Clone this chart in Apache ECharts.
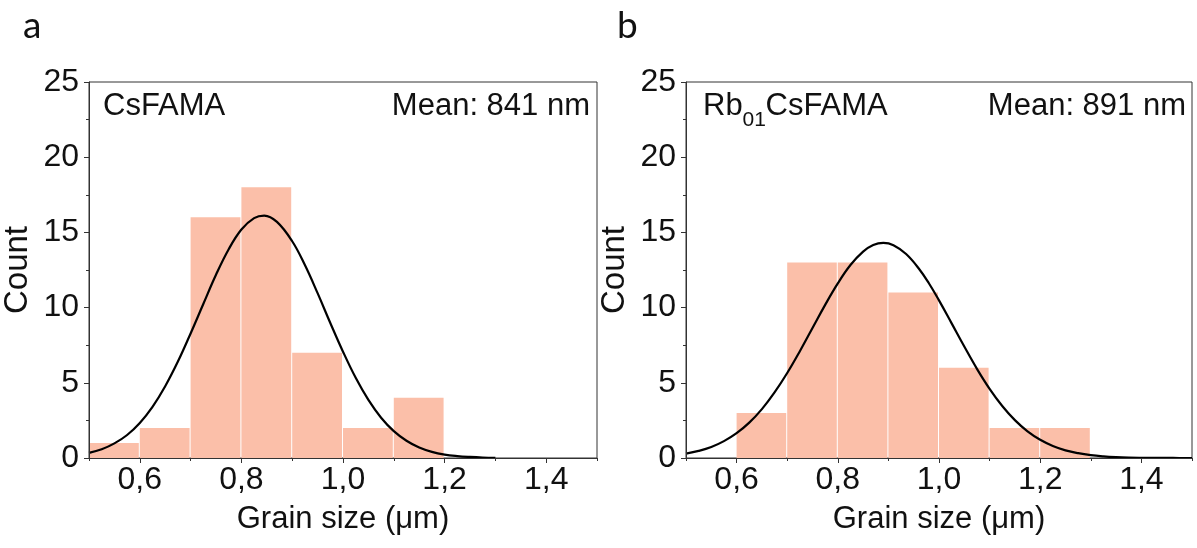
<!DOCTYPE html>
<html>
<head>
<meta charset="utf-8">
<script src="https://cdn.jsdelivr.net/npm/echarts@6/dist/echarts.min.js"></script>
<style>
html,body{margin:0;padding:0;background:#fff;}
#chart{width:1197px;height:548px;}
</style>
</head>
<body>
<div id="chart"></div>
<script>
// ---- data ----
const binWidth = 0.1;
const binLeftA = [0.5, 0.6, 0.7, 0.8, 0.9, 1.0, 1.1];
const countsA = [1, 2, 16, 18, 7, 2, 4];
const binLeftB = [0.6, 0.7, 0.8, 0.9, 1.0, 1.1, 1.2];
const countsB = [3, 13, 13, 11, 6, 2, 2];

const fitXA = [0.5,0.525,0.55,0.575,0.6,0.625,0.65,0.675,0.7,0.725,0.75,0.775,0.8,0.825,0.845,0.87,0.9,0.925,0.95,0.975,1.0,1.025,1.05,1.075,1.1,1.125,1.15,1.175,1.2,1.225,1.25,1.275,1.3];
const fitYA = [0.34,0.58,0.97,1.53,2.33,3.40,4.77,6.41,8.28,10.24,12.18,13.88,15.19,15.95,16.12,15.70,14.41,12.83,10.96,8.98,7.07,5.33,3.86,2.68,1.79,1.15,0.70,0.41,0.23,0.13,0.07,0.03,0.01];
const fitXB = [0.5,0.525,0.55,0.575,0.6,0.625,0.65,0.675,0.7,0.725,0.75,0.775,0.8,0.825,0.85,0.87,0.89,0.91,0.935,0.96,0.98,1.0,1.025,1.05,1.075,1.1,1.125,1.15,1.175,1.2,1.225,1.25,1.275,1.3,1.325,1.35,1.375,1.4,1.425,1.45,1.475,1.5];
const fitYB = [0.29,0.47,0.73,1.12,1.65,2.35,3.25,4.36,5.65,7.10,8.64,10.18,11.61,12.83,13.72,14.16,14.30,14.15,13.56,12.60,11.62,10.48,8.95,7.41,5.93,4.60,3.46,2.52,1.77,1.21,0.80,0.51,0.32,0.19,0.11,0.06,0.03,0.015,0.007,0.003,0.001,0.0];

const xMajorTicks = [0.6, 0.8, 1.0, 1.2, 1.4];
const sampleA = 'CsFAMA';
const meanA = 'Mean: 841 nm';
const meanB = 'Mean: 891 nm';

// ---- build ----
const FONT = "'Liberation Sans', Arial, sans-serif";
const AXC = '#333';
const TXT = '#111';
const BAR = '#fbbfa9';

function hist(left, counts) {
  return left.map((l, i) => [l, +(l + binWidth).toFixed(2), counts[i]]);
}
function pairs(xs, ys) { return xs.map((x, i) => [x, ys[i]]); }

function renderBar(params, api) {
  const p0 = api.coord([api.value(0), api.value(2)]);
  const p1 = api.coord([api.value(1), 0]);
  return {
    type: 'rect',
    shape: { x: p0[0], y: p0[1], width: p1[0] - p0[0] - 1, height: p1[1] - p0[1] },
    style: { fill: BAR }
  };
}

function xMain(gi) {
  return {
    type: 'value', gridIndex: gi, min: 0.5, max: 1.5, interval: 0.1, z: 10,
    axisLine: { show: true, lineStyle: { color: AXC, width: 1 } },
    axisTick: { show: true, length: 3, lineStyle: { color: AXC } },
    splitLine: { show: false },
    axisLabel: {
      show: true, margin: 6, fontSize: 32, fontFamily: FONT, color: TXT,
      formatter: v => (Math.round(v * 10) % 2 === 0 && v > 0.55 && v < 1.45) ? v.toFixed(1).replace('.', ',') : ''
    },
    name: 'Grain size (\u03bcm)', nameLocation: 'middle', nameGap: 46,
    nameTextStyle: { fontSize: 31, fontFamily: FONT, color: TXT }
  };
}
function xMajor(gi) {
  return {
    type: 'value', gridIndex: gi, min: 0.5, max: 1.5, interval: 0.1, position: 'bottom', z: 10,
    axisLine: { show: false },
    axisTick: { show: true, length: 5, customValues: xMajorTicks, lineStyle: { color: AXC } },
    axisLabel: { show: false },
    splitLine: { show: false }
  };
}
function yAx(gi) {
  return {
    type: 'value', gridIndex: gi, min: 0, max: 25, interval: 5, z: 10,
    axisLine: { show: true, lineStyle: { color: AXC, width: 1 } },
    axisTick: { show: true, length: 5, lineStyle: { color: AXC } },
    minorTick: { show: true, splitNumber: 2, length: 3, lineStyle: { color: AXC } },
    splitLine: { show: false },
    axisLabel: { margin: 10, fontSize: 32, fontFamily: FONT, color: TXT },
    name: 'Count', nameLocation: 'middle', nameGap: 55,
    nameTextStyle: { fontSize: 33, fontFamily: FONT, color: TXT }
  };
}

const chart = echarts.init(document.getElementById('chart'), null, { renderer: 'canvas' });
const option = {
  animation: false,
  backgroundColor: '#fff',
  grid: [
    { left: 89, top: 82, width: 508, height: 376, show: true, borderColor: AXC, borderWidth: 1, backgroundColor: 'transparent' },
    { left: 686, top: 82, width: 506, height: 376, show: true, borderColor: AXC, borderWidth: 1, backgroundColor: 'transparent' }
  ],
  xAxis: [xMain(0), xMain(1), xMajor(0), xMajor(1)],
  yAxis: [yAx(0), yAx(1)],
  series: [
    { type: 'custom', xAxisIndex: 0, yAxisIndex: 0, renderItem: renderBar, encode: { x: [0, 1], y: 2 }, data: hist(binLeftA, countsA), z: 2 },
    { type: 'custom', xAxisIndex: 1, yAxisIndex: 1, renderItem: renderBar, encode: { x: [0, 1], y: 2 }, data: hist(binLeftB, countsB), z: 2 },
    { type: 'line', xAxisIndex: 0, yAxisIndex: 0, data: pairs(fitXA, fitYA), showSymbol: false, smooth: 0.4, lineStyle: { color: '#000', width: 2.2 }, z: 5 },
    { type: 'line', xAxisIndex: 1, yAxisIndex: 1, data: pairs(fitXB, fitYB), showSymbol: false, smooth: 0.4, lineStyle: { color: '#000', width: 2.2 }, z: 5 }
  ],
  graphic: [
    { type: 'text', left: 23, top: 8, style: { text: 'a', font: '37px Lato, sans-serif', fill: '#111' } },
    { type: 'text', left: 617, top: 8, style: { text: 'b', font: '37px Lato, sans-serif', fill: '#111' } },
    { type: 'text', x: 103, y: 106, style: { text: sampleA, font: "31px 'Liberation Sans', Arial, sans-serif", fill: TXT, textAlign: 'left', textVerticalAlign: 'middle' } },
    { type: 'text', x: 590, y: 106, style: { text: meanA, font: "31px 'Liberation Sans', Arial, sans-serif", fill: TXT, textAlign: 'right', textVerticalAlign: 'middle' } },
    { type: 'text', x: 703, y: 106, style: { text: 'Rb', font: "31px 'Liberation Sans', Arial, sans-serif", fill: TXT, textAlign: 'left', textVerticalAlign: 'middle' } },
    { type: 'text', x: 742.5, y: 120, style: { text: '01', font: "21px 'Liberation Sans', Arial, sans-serif", fill: TXT, textAlign: 'left', textVerticalAlign: 'middle' } },
    { type: 'text', x: 765.5, y: 106, style: { text: 'CsFAMA', font: "31px 'Liberation Sans', Arial, sans-serif", fill: TXT, textAlign: 'left', textVerticalAlign: 'middle' } },
    { type: 'text', x: 1186, y: 106, style: { text: meanB, font: "31px 'Liberation Sans', Arial, sans-serif", fill: TXT, textAlign: 'right', textVerticalAlign: 'middle' } }
  ]
};
chart.setOption(option);
</script>
</body>
</html>
